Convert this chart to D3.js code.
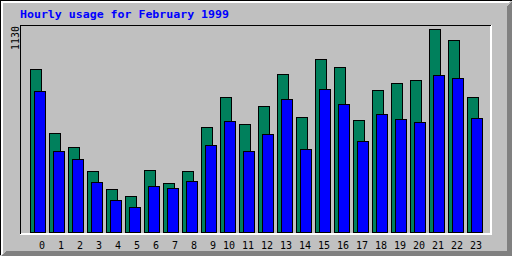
<!DOCTYPE html>
<html>
<head>
<meta charset="utf-8">
<script src="https://cdn.jsdelivr.net/npm/d3@7"></script>
<style>
  html, body { margin: 0; padding: 0; background: #c0c0c0; }
  svg { display: block; }
</style>
</head>
<body>
<div id="chart"></div>
<script>
// Data
const hours = d3.range(0, 24);
const hitValues = [906, 549, 471, 338, 238, 199, 343, 271, 338, 583, 750, 600,
                   700, 878, 638, 961, 917, 622, 789, 828, 844, 1130, 1067, 750];
const fileValues = [783, 449, 405, 277, 176, 137, 254, 243, 282, 483, 616, 449,
                    544, 739, 460, 794, 711, 505, 655, 627, 611, 872, 856, 633];
const titleText = 'Hourly usage for February 1999';
const maxLabel = 1130;

const dimensions = {
    width: 512,
    height: 256
};

const colors = {
    panel: '#c0c0c0',
    shadow: '#808080',
    hits: '#00805c',
    files: '#0000ff',
    title: '#0000ff'
};

// Scales
const xScale = d3.scaleBand()
    .domain(hours)
    .range([30, 30 + hours.length * 19])
    .paddingInner(0)
    .paddingOuter(0);

const yScale = d3.scaleLinear()
    .domain([0, maxLabel])
    .range([232, 29]);

const svg = d3.select('#chart')
    .append('svg')
    .attr('width', dimensions.width)
    .attr('height', dimensions.height)
    .attr('shape-rendering', 'crispEdges');

// Outer panel with 3D border
svg.append('rect')
    .attr('width', dimensions.width)
    .attr('height', dimensions.height)
    .attr('fill', colors.panel);

svg.append('polygon')
    .attr('points', '512,1 512,256 1,256 6,251 507,251 507,6')
    .attr('fill', colors.shadow);

svg.append('polygon')
    .attr('points', '1,1 510,1 508,3 3,3 3,253 1,255')
    .attr('fill', '#ffffff');

svg.append('rect').attr('x', 0).attr('y', 0).attr('width', 512).attr('height', 1).attr('fill', '#000');
svg.append('rect').attr('x', 0).attr('y', 0).attr('width', 1).attr('height', 255).attr('fill', '#000');

// Inner plot frame
svg.append('rect').attr('x', 20).attr('y', 233).attr('width', 472).attr('height', 2).attr('fill', '#fff');
svg.append('rect').attr('x', 490).attr('y', 25).attr('width', 2).attr('height', 210).attr('fill', '#fff');
svg.append('rect').attr('x', 20).attr('y', 25).attr('width', 471).attr('height', 1).attr('fill', '#000');
svg.append('rect').attr('x', 20).attr('y', 25).attr('width', 1).attr('height', 209).attr('fill', '#000');

// Title
svg.append('text')
    .attr('x', 20)
    .attr('y', 18)
    .attr('textLength', 209)
    .attr('lengthAdjust', 'spacingAndGlyphs')
    .style('font-family', "'DejaVu Sans Mono', monospace")
    .style('font-weight', 'bold')
    .style('font-size', '11px')
    .attr('fill', colors.title)
    .text(titleText);

// Max value label (rotated)
svg.append('text')
    .attr('transform', 'translate(19,26) rotate(-90)')
    .attr('text-anchor', 'end')
    .style('font-family', "'DejaVu Sans Mono', monospace")
    .style('font-size', '10px')
    .attr('fill', '#000')
    .text(maxLabel);

// Bars
const bars = svg.append('g').attr('stroke', '#000').attr('stroke-width', 1);

bars.selectAll('rect.hits')
    .data(hitValues)
    .join('rect')
    .attr('class', 'hits')
    .attr('x', (d, i) => xScale(hours[i]) + 0.5)
    .attr('y', d => Math.round(yScale(d)) + 0.5)
    .attr('width', 11)
    .attr('height', d => 232 - Math.round(yScale(d)))
    .attr('fill', colors.hits);

bars.selectAll('rect.files')
    .data(fileValues)
    .join('rect')
    .attr('class', 'files')
    .attr('x', (d, i) => xScale(hours[i]) + 4.5)
    .attr('y', d => Math.round(yScale(d)) + 0.5)
    .attr('width', 11)
    .attr('height', d => 232 - Math.round(yScale(d)))
    .attr('fill', colors.files);

// Hour labels
const xAxis = d3.axisBottom(xScale)
    .tickSize(0)
    .tickPadding(0)
    .tickFormat(d => d);

const xAxisGroup = svg.append('g')
    .attr('transform', 'translate(0,241)')
    .call(xAxis);

xAxisGroup.select('.domain').remove();
xAxisGroup.selectAll('.tick')
    .attr('transform', d => `translate(${xScale(d) + 15},0)`);
xAxisGroup.selectAll('.tick text')
    .attr('text-anchor', 'end')
    .attr('dy', '0.8em')
    .attr('y', 0)
    .attr('fill', '#000')
    .style('font-family', "'DejaVu Sans Mono', monospace")
    .style('font-size', '10px');
</script>
</body>
</html>
